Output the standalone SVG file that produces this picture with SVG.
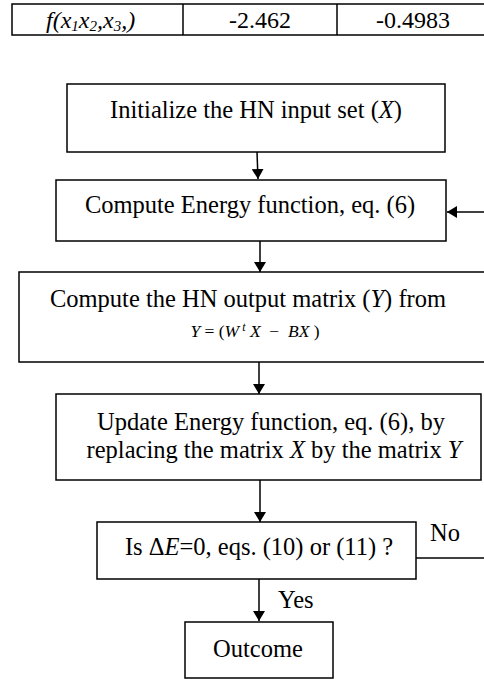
<svg xmlns="http://www.w3.org/2000/svg" width="484" height="679" viewBox="0 0 484 679">
<style>
text{font-family:"Liberation Serif","Times New Roman",serif;fill:#000;font-size:24.5px}
.box{fill:#fff;stroke:#000;stroke-width:1.5}
.ln{stroke:#000;stroke-width:1.5;fill:none}
.it{font-style:italic}
.tb{font-size:24px}
.fm{font-size:17.5px}
</style>
<defs>
<marker id="ah" markerWidth="10" markerHeight="12" refX="10" refY="6" orient="auto" markerUnits="userSpaceOnUse">
<path d="M0,0 L10,6 L0,12 Z" fill="#000"/>
</marker>
</defs>
<g id="table">
<rect x="12" y="4" width="480" height="31" class="box" stroke-width="2"/>
<line x1="183" y1="4" x2="183" y2="35" class="ln" stroke-width="2"/>
<line x1="337" y1="4" x2="337" y2="35" class="ln" stroke-width="2"/>
<text x="46" y="28" class="it tb">f(x<tspan font-size="15" dy="3">1</tspan><tspan dy="-3">x</tspan><tspan font-size="15" dy="3">2</tspan><tspan dy="-3">,x</tspan><tspan font-size="15" dy="3">3</tspan><tspan dy="-3">,)</tspan></text>
<text x="260" y="28" text-anchor="middle" class="tb">-2.462</text>
<text x="413" y="28" text-anchor="middle" class="tb">-0.4983</text>
</g>
<g id="connectors">
<line x1="257" y1="152" x2="258" y2="179" class="ln" marker-end="url(#ah)"/>
<line x1="484" y1="212" x2="447" y2="212" class="ln" marker-end="url(#ah)"/>
<line x1="260" y1="241" x2="260" y2="272" class="ln" marker-end="url(#ah)"/>
<line x1="259" y1="362" x2="259" y2="394" class="ln" marker-end="url(#ah)"/>
<line x1="260" y1="480" x2="260" y2="522" class="ln" marker-end="url(#ah)"/>
<line x1="416" y1="558" x2="484" y2="558" class="ln"/>
<line x1="259" y1="579" x2="259" y2="621" class="ln" marker-end="url(#ah)"/>
<text x="430" y="541">No</text>
<text x="278" y="608">Yes</text>
</g>
<g id="n1">
<rect x="67" y="84" width="378" height="68" class="box"/>
<text x="256" y="118" text-anchor="middle">Initialize the HN input set (<tspan class="it">X</tspan>)</text>
</g>
<g id="n2">
<rect x="56" y="180" width="390" height="61" class="box"/>
<text x="250" y="213" text-anchor="middle">Compute Energy function, eq. (6)</text>
</g>
<g id="n3">
<rect x="19" y="272" width="480" height="90" class="box"/>
<text x="248" y="307" text-anchor="middle">Compute the HN output matrix (<tspan class="it">Y</tspan>) from</text>
<text x="255" y="337" class="fm" text-anchor="middle" xml:space="preserve"><tspan class="it">Y</tspan> = (<tspan class="it">W</tspan><tspan class="it" font-size="12" dy="-6"> t</tspan><tspan dy="6"> </tspan><tspan class="it">X</tspan>  −  <tspan class="it">BX</tspan> )</text>
</g>
<g id="n4">
<rect x="56" y="394" width="425" height="86" class="box"/>
<text x="271" y="430" text-anchor="middle">Update Energy function, eq. (6), by</text>
<text x="274" y="458" text-anchor="middle">replacing the matrix <tspan class="it">X</tspan> by the matrix <tspan class="it">Y</tspan></text>
</g>
<g id="n5">
<rect x="97" y="522" width="319" height="57" class="box"/>
<text x="259" y="555" text-anchor="middle">Is Δ<tspan class="it">E</tspan>=0, eqs. (10) or (11) ?</text>
</g>
<g id="n6">
<rect x="185" y="622" width="148" height="56" class="box"/>
<text x="258" y="657" text-anchor="middle">Outcome</text>
</g>
</svg>
